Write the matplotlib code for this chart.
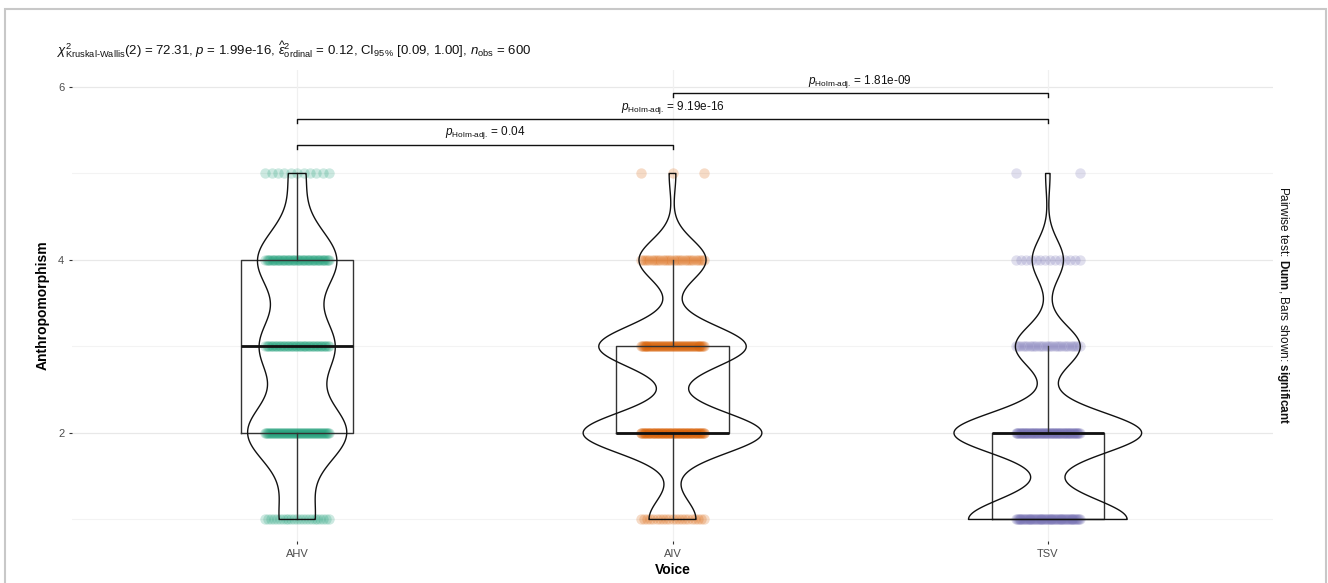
import numpy as np
import matplotlib
matplotlib.use("Agg")
from matplotlib import pyplot as plt
from matplotlib.patches import Rectangle

plt.rcParams['font.family'] = ['Liberation Sans', 'DejaVu Sans']
plt.rcParams['mathtext.fontset'] = 'custom'
plt.rcParams['mathtext.rm'] = 'Liberation Sans'
plt.rcParams['mathtext.it'] = 'Liberation Sans:italic'
plt.rcParams['mathtext.bf'] = 'Liberation Sans:bold'

# ratings 1..5, number of answers per voice
levels = np.array([1, 2, 3, 4, 5])
groups = ['AHV', 'AIV', 'TSV']
counts_ahv = [23, 65, 49, 52, 11]
counts_aiv = [21, 80, 66, 30, 3]
counts_tsv = [71, 84, 29, 14, 2]
colors = ['#1B9E77', '#D95F02', '#7570B3']

# pairwise Dunn tests (Holm adjusted)
pairs = [(1, 2), (1, 3), (2, 3)]
pair_y = [5.33, 5.63, 5.93]
pair_p = ['0.04', '9.19e-16', '1.81e-09']

title = (r"$\chi^2_{\text{Kruskal-Wallis}}$(2) = 72.31, $\it{p}$ = 1.99e-16, "
         r"$\widehat{\epsilon}^2_{\mathrm{ordinal}}$ = 0.12, CI$_{95\%}$ [0.09, 1.00], "
         r"$\it{n}_{\mathrm{obs}}$ = 600")


def nrd0(x):
    # R's default bandwidth
    sd = np.std(x, ddof=1)
    iqr = np.percentile(x, 75) - np.percentile(x, 25)
    lo = min(sd, iqr / 1.34)
    return 0.9 * lo * len(x) ** -0.2


def density(x, grid):
    bw = nrd0(x)
    z = (grid[:, None] - x[None, :]) / bw
    return np.exp(-0.5 * z ** 2).sum(axis=1) / (len(x) * bw * np.sqrt(2 * np.pi))


all_counts = [counts_ahv, counts_aiv, counts_tsv]
samples = [np.repeat(levels, c).astype(float) for c in all_counts]

fig = plt.figure(figsize=(13.28, 5.83), dpi=100)
ax = fig.add_axes([72 / 1328, 1 - 541 / 583, 1201 / 1328, 471.5 / 583])

# grid
for y in [1, 3, 5]:
    ax.axhline(y, color='#f3f3f3', lw=0.8, zorder=0)
for y in [2, 4, 6]:
    ax.axhline(y, color='#e8e8e8', lw=0.9, zorder=0)
for x in [1, 2, 3]:
    ax.axvline(x, color='#f0f0f0', lw=0.9, zorder=0)

# jittered points
for i, (c, col) in enumerate(zip(all_counts, colors)):
    for lv, n in zip(levels, c):
        if n == 0:
            continue
        offs = np.linspace(-0.085, 0.085, n)
        ax.scatter(i + 1 + offs, np.full(n, lv), s=56, color=col, alpha=0.22,
                   linewidths=0, zorder=1)

# boxes
ax.boxplot(samples, positions=[1, 2, 3], widths=0.3, showfliers=False,
           showcaps=False, whis=1.5,
           boxprops=dict(color='#333333', lw=1.0),
           whiskerprops=dict(color='#333333', lw=1.0),
           medianprops=dict(color='#111111', lw=2.0),
           zorder=2)

# violins, widths scaled by area across groups
grid = np.linspace(1, 5, 512)
dens = [density(s, grid) for s in samples]
dmax = max(d.max() for d in dens)
for i, d in enumerate(dens):
    w = d / dmax * 0.25
    ax.fill_betweenx(grid, i + 1 - w, i + 1 + w, facecolor='none',
                     edgecolor='#111111', lw=1.0, zorder=3)

# significance brackets
for (a, b), y, p in zip(pairs, pair_y, pair_p):
    ax.plot([a, a, b, b], [y - 0.05, y, y, y - 0.05], color='#111111', lw=1.0)
    ax.text((a + b) / 2, y + 0.04, r"$\it{p}_{\text{Holm-adj.}}$ = " + p,
            ha='center', va='bottom', fontsize=8.5, color='#111111')

ax.set_xlim(0.4, 3.6)
ax.set_ylim(0.751, 6.202)
ax.set_xticks([1, 2, 3])
ax.set_xticklabels(groups)
ax.set_yticks([2, 4, 6])
ax.tick_params(length=2.5, color='#333333', labelcolor='#4d4d4d', labelsize=8, pad=3)
for s in ax.spines.values():
    s.set_visible(False)

ax.set_xlabel('Voice', fontsize=10, fontweight='bold', labelpad=3)
ax.set_ylabel('Anthropomorphism', fontsize=10, fontweight='bold', labelpad=6)

fig.text(57 / 1328, 1 - 50 / 583, title, fontsize=9.5, ha='left', va='center',
         color='#111111')
fig.text(1283 / 1328, 1 - 305 / 583,
         r"Pairwise test: $\bf{Dunn}$, Bars shown: $\bf{significant}$",
         rotation=270, ha='center', va='center', fontsize=8.5, color='#111111')

# outer frame
fig.patches.append(Rectangle((4.5 / 1328, -0.05), 1321.5 / 1328, 1.05 - 8.5 / 583,
                             transform=fig.transFigure, fill=False,
                             edgecolor='#c8c8c8', lw=1.5))

fig.savefig('out.png', dpi=100)
